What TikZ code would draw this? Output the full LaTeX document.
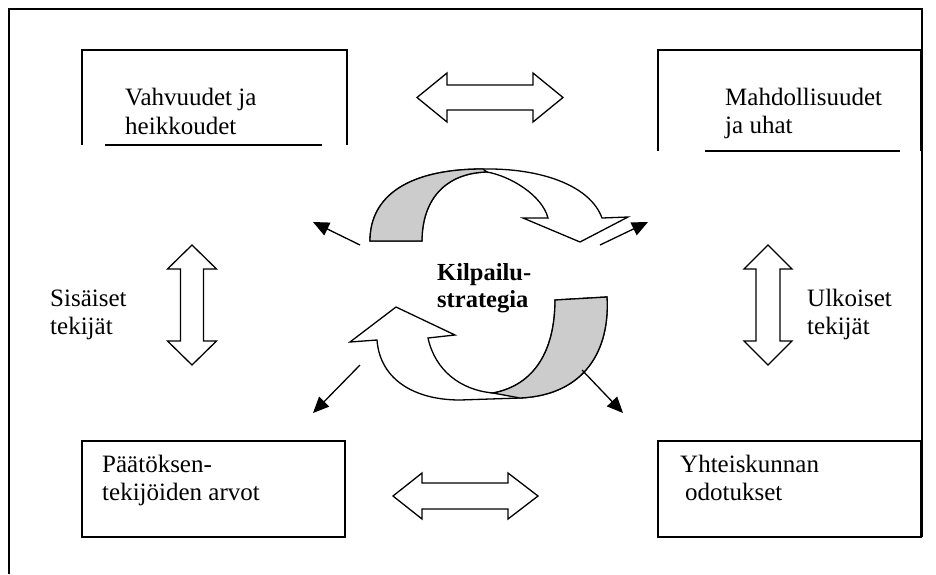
\documentclass[tikz,border=0pt]{standalone}
\usepackage{fontspec}
\setmainfont{Liberation Serif}
\usetikzlibrary{arrows.meta}
\begin{document}
\begin{tikzpicture}[x=1pt,y=-1pt,line join=miter,
  frame/.style={line width=1.6pt},
  boxline/.style={line width=1.6pt},
  fat/.style={draw,line width=1.3pt,fill=white},
  band/.style={draw,line width=1.3pt,fill=black!20},
  thin/.style={line width=1.3pt,-{Triangle[length=16pt,width=14pt]}},
  txt/.style={font=\fontsize{25}{29}\selectfont,inner sep=0pt,anchor=base west},
  btxt/.style={txt,font=\fontsize{24.5}{29}\selectfont\bfseries}]
\useasboundingbox (0,0) rectangle (936,574);

% page frame (open at the bottom)
\draw[frame] (9,574) -- (9,9) -- (922,9) -- (922,537);

% four boxes
\draw[boxline] (82,145) -- (82,50) -- (347,50) -- (347,145);
\draw[boxline] (105,145) -- (322,145);
\draw[boxline] (658,151) -- (658,50) -- (921,50) -- (921,151);
\draw[boxline] (705,151) -- (900,151);
\draw[boxline] (82,441) rectangle (345,537);
\draw[boxline] (658,441) rectangle (921,537);

% box texts
\node[txt] (tl1) at (125,105) {Vahvuudet ja};
\node[txt] (tl2) at (125,134) {heikkoudet};
\node[txt] (tr1) at (725,105) {Mahdollisuudet};
\node[txt] (tr2) at (725,133) {ja uhat};
\node[txt] (bl1) at (102,472) {Päätöksen-};
\node[txt] (bl2) at (102,500) {tekijöiden arvot};
\node[txt] (br1) at (680,472) {Yhteiskunnan};
\node[txt] (br2) at (685,500) {odotukset};

% side labels
\node[txt] (si1) at (50,306) {Sisäiset};
\node[txt] (si2) at (50,334) {tekijät};
\node[txt] (ul1) at (807,306) {Ulkoiset};
\node[txt] (ul2) at (807,334) {tekijät};

% centre label
\node[btxt] (k1) at (437,280) {Kilpailu-};
\node[btxt] (k2) at (437,307) {strategia};

% horizontal double arrows
\draw[fat] (417,97.5) -- (447,73) -- (447,85) -- (533,85) -- (533,73) -- (563,97.5)
  -- (533,122) -- (533,110) -- (447,110) -- (447,122) -- cycle;
\draw[fat] (393,496) -- (422,473) -- (422,483) -- (508,483) -- (508,473) -- (538,496)
  -- (508,519) -- (508,509) -- (422,509) -- (422,519) -- cycle;

% vertical double arrows
\draw[fat] (192,245) -- (216.5,269) -- (203.5,269) -- (203.5,341) -- (216.5,341) -- (192,365)
  -- (167.5,341) -- (180.5,341) -- (180.5,269) -- (167.5,269) -- cycle;
\draw[fat] (768,245) -- (792,269) -- (780,269) -- (780,341) -- (792,341) -- (768,365)
  -- (744,341) -- (756,341) -- (756,269) -- (744,269) -- cycle;

% upper curved arrow
\draw[fat] (370,241) .. controls (370,195) and (410,169) .. (483,169)
  .. controls (540,168) and (590,185) .. (602,218) -- (628,217) -- (580,242)
  -- (523,218) -- (548,218) .. controls (542,195) and (510,176) .. (487,172)
  .. controls (445,173) and (422,200) .. (422,241) -- cycle;
\draw[band] (370,241) .. controls (370,195) and (410,169) .. (483,169) -- (487,172)
  .. controls (445,173) and (422,200) .. (422,241) -- cycle;

% lower curved arrow
\draw[fat] (607,297) .. controls (610,350) and (585,395) .. (520,398) -- (460,400)
  .. controls (415,400) and (380,380) .. (377,340) -- (350,342) -- (396,307)
  -- (455,335) -- (428,338) .. controls (435,370) and (460,390) .. (493,393)
  .. controls (535,385) and (555,350) .. (555,300) -- cycle;
\draw[band] (555,300) -- (607,297) .. controls (610,350) and (585,395) .. (520,398)
  -- (493,393) .. controls (535,385) and (555,350) .. (555,300) -- cycle;

% four thin arrows
\coordinate (a1s) at (360,245); \coordinate (a1t) at (313,222);
\coordinate (a2s) at (600,245); \coordinate (a2t) at (648,222);
\coordinate (a3s) at (360,365); \coordinate (a3t) at (313,413);
\coordinate (a4s) at (582,370); \coordinate (a4t) at (623,413);
\draw[thin] (a1s) -- (a1t);
\draw[thin] (a2s) -- (a2t);
\draw[thin] (a3s) -- (a3t);
\draw[thin] (a4s) -- (a4t);
\end{tikzpicture}
\end{document}
